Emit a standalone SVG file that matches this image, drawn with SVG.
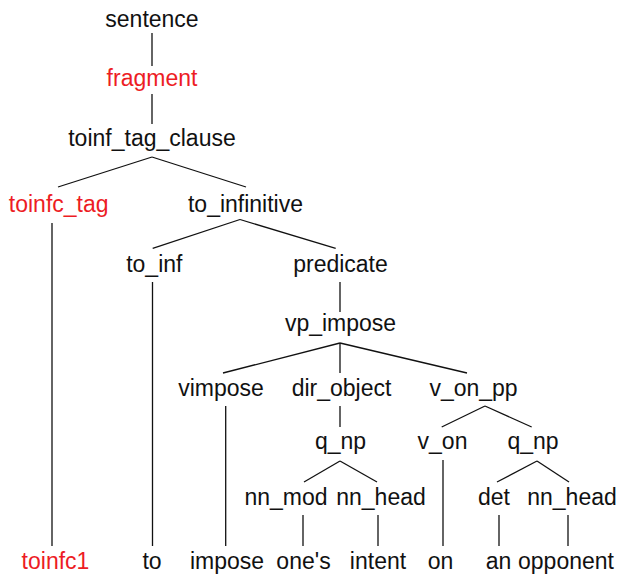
<svg xmlns="http://www.w3.org/2000/svg" width="618" height="576" viewBox="0 0 618 576">
<style>
text{font-family:"Liberation Sans",Arial,sans-serif;font-size:23px;text-anchor:middle;fill:#111}
text.red{fill:#ed1c24}
#edges line{stroke:#111;stroke-width:1.3;fill:none}
</style>
<rect width="618" height="576" fill="#fff"/>
<g id="edges">
<line x1="152" y1="33" x2="152" y2="66"/>
<line x1="152" y1="94" x2="152" y2="124"/>
<line x1="152" y1="157" x2="58" y2="187"/>
<line x1="152" y1="157" x2="246" y2="187"/>
<line x1="52" y1="223" x2="52" y2="546"/>
<line x1="240" y1="219.5" x2="152.7" y2="248.3"/>
<line x1="240" y1="219.5" x2="335.7" y2="248.3"/>
<line x1="152.5" y1="282" x2="152.5" y2="546"/>
<line x1="340" y1="282" x2="340" y2="312"/>
<line x1="340" y1="343" x2="223" y2="373"/>
<line x1="340" y1="343" x2="340" y2="373"/>
<line x1="340" y1="343" x2="467" y2="373"/>
<line x1="225.7" y1="406" x2="225.7" y2="546"/>
<line x1="340" y1="406" x2="340" y2="427"/>
<line x1="485" y1="406" x2="441.7" y2="427"/>
<line x1="485" y1="406" x2="531.7" y2="427"/>
<line x1="443" y1="460" x2="443" y2="546"/>
<line x1="340" y1="461" x2="304" y2="482"/>
<line x1="340" y1="461" x2="377" y2="482"/>
<line x1="537" y1="461" x2="497" y2="482"/>
<line x1="537" y1="461" x2="569" y2="482"/>
<line x1="303" y1="515" x2="303" y2="546"/>
<line x1="378" y1="515" x2="378" y2="546"/>
<line x1="499" y1="515" x2="499" y2="546"/>
<line x1="568" y1="515" x2="568" y2="546"/>
</g>
<g id="n-sentence"><text x="152" y="27">sentence</text></g>
<g id="n-fragment"><text class="red" x="152" y="86">fragment</text></g>
<g id="n-toinf_tag_clause"><text x="152" y="146">toinf_tag_clause</text></g>
<g id="n-toinfc_tag"><text class="red" x="58.7" y="212">toinfc_tag</text></g>
<g id="n-to_infinitive"><text x="245.5" y="212">to_infinitive</text></g>
<g id="n-to_inf"><text x="154.3" y="272">to_inf</text></g>
<g id="n-predicate"><text x="340.5" y="272">predicate</text></g>
<g id="n-vp_impose"><text x="340.5" y="331">vp_impose</text></g>
<g id="n-vimpose"><text x="221" y="396">vimpose</text></g>
<g id="n-dir_object"><text x="341.5" y="396">dir_object</text></g>
<g id="n-v_on_pp"><text x="473.5" y="396">v_on_pp</text></g>
<g id="n-q_np1"><text x="340.5" y="449">q_np</text></g>
<g id="n-v_on"><text x="442.5" y="449">v_on</text></g>
<g id="n-q_np2"><text x="533" y="449">q_np</text></g>
<g id="n-nn_mod"><text x="286" y="505">nn_mod</text></g>
<g id="n-nn_head1"><text x="381" y="505">nn_head</text></g>
<g id="n-det"><text x="494" y="505">det</text></g>
<g id="n-nn_head2"><text x="572" y="505">nn_head</text></g>
<g id="n-toinfc1"><text class="red" x="55.5" y="569">toinfc1</text></g>
<g id="n-to"><text x="152" y="569">to</text></g>
<g id="n-impose"><text x="227" y="569">impose</text></g>
<g id="n-ones"><text x="303.5" y="569">one's</text></g>
<g id="n-intent"><text x="378" y="569">intent</text></g>
<g id="n-on"><text x="440.5" y="569">on</text></g>
<g id="n-an"><text x="498.5" y="569">an</text></g>
<g id="n-opponent"><text x="566" y="569">opponent</text></g>
</svg>
